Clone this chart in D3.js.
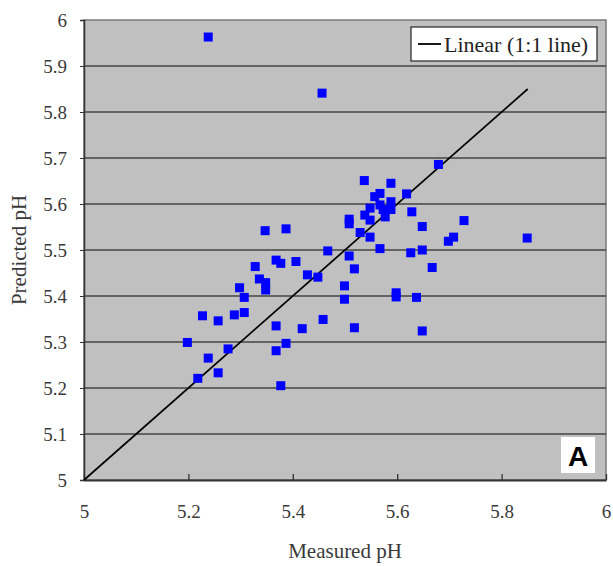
<!DOCTYPE html>
<html>
<head>
<meta charset="utf-8">
<script src="https://cdn.jsdelivr.net/npm/d3@7"></script>
<style>
  body { margin: 0; background: #ffffff; }
  text { font-family: "Liberation Serif", "DejaVu Serif", serif; }
</style>
</head>
<body>
<div id="chart"></div>
<script>
const plot_bg = "#c0c0c0"
const grid_color = "#454545"
const point_color = "#0000ff"
const text_color = "#3a3a3a"
const serif = "'Liberation Serif', 'DejaVu Serif', serif"

// measured pH vs predicted pH
const measured = [
  5.238, 5.456, 5.679, 5.537, 5.588, 5.567, 5.557, 5.618, 5.588, 5.567,
  5.548, 5.573, 5.588, 5.538, 5.577, 5.548, 5.628, 5.508, 5.508, 5.529,
  5.548, 5.648, 5.728, 5.698, 5.708, 5.467, 5.508, 5.567, 5.626, 5.648,
  5.518, 5.667, 5.499, 5.499, 5.598, 5.598, 5.637, 5.458, 5.518, 5.648,
  5.328, 5.368, 5.377, 5.406, 5.428, 5.448, 5.336, 5.348, 5.348, 5.298,
  5.307, 5.227, 5.257, 5.288, 5.307, 5.368, 5.418, 5.198, 5.276, 5.387,
  5.368, 5.238, 5.257, 5.218, 5.377, 5.347, 5.387, 5.849
];
const predicted = [
  5.963, 5.841, 5.686, 5.651, 5.645, 5.623, 5.616, 5.622, 5.605, 5.598,
  5.591, 5.588, 5.588, 5.576, 5.572, 5.565, 5.583, 5.567, 5.557, 5.538,
  5.528, 5.551, 5.564, 5.519, 5.528, 5.498, 5.487, 5.503, 5.494, 5.500,
  5.459, 5.462, 5.422, 5.393, 5.407, 5.398, 5.397, 5.349, 5.331, 5.324,
  5.464, 5.478, 5.471, 5.475, 5.446, 5.441, 5.437, 5.429, 5.413, 5.418,
  5.397, 5.357, 5.346, 5.359, 5.364, 5.335, 5.329, 5.299, 5.285, 5.297,
  5.281, 5.265, 5.233, 5.221, 5.205, 5.542, 5.546, 5.526
];
const line_ends = [5, 5.85];
const x_ticks = [5, 5.2, 5.4, 5.6, 5.8, 6];
const y_ticks = [5, 5.1, 5.2, 5.3, 5.4, 5.5, 5.6, 5.7, 5.8, 5.9, 6];

const W = 613, H = 566;
const margin = {top: 20, right: 7, bottom: 86, left: 84};
const w = W - margin.left - margin.right,
    h = H - margin.top - margin.bottom;

const svg = d3.select("#chart").append("svg")
    .attr("width", W)
    .attr("height", H);

const g = svg.append("g")
    .attr("transform", `translate(${margin.left},${margin.top})`);

const x = d3.scaleLinear().domain([5, 6]).range([0, w]);
const y = d3.scaleLinear().domain([5, 6]).range([h, 0]);
const fmt = d => String(+d.toFixed(1));

g.append("rect")
    .attr("width", w)
    .attr("height", h)
    .attr("fill", plot_bg)
    .attr("stroke", "#7a7a7a")
    .attr("stroke-width", 1.5);

// horizontal gridlines
g.selectAll(".grid")
  .data(y_ticks.slice(1, -1))
  .join("line")
    .attr("x1", 0)
    .attr("x2", w)
    .attr("y1", d => y(d))
    .attr("y2", d => y(d))
    .attr("stroke", grid_color)
    .attr("stroke-width", 1.7);

// y axis
const yAxis = g.append("g")
    .call(d3.axisLeft(y).tickValues(y_ticks).tickFormat(fmt).tickSize(4).tickPadding(13))
    .attr("font-family", serif)
    .attr("font-size", 19);
yAxis.select(".domain").attr("stroke", "#333").attr("stroke-width", 1.5);
yAxis.selectAll(".tick line").attr("stroke", "#333");
yAxis.selectAll("text").attr("fill", text_color);

// x axis, ticks pointing inward
const xAxis = g.append("g")
    .attr("transform", `translate(0,${h})`)
    .call(d3.axisBottom(x).tickValues(x_ticks).tickFormat(fmt).tickSizeInner(-6).tickSizeOuter(0).tickPadding(25))
    .attr("font-family", serif)
    .attr("font-size", 19);
xAxis.select(".domain").attr("stroke", "#333").attr("stroke-width", 1.8);
xAxis.selectAll(".tick line").attr("stroke", "#333").attr("stroke-width", 1.3);
xAxis.selectAll("text").attr("fill", text_color);

// 1:1 line
g.append("line")
    .attr("x1", x(line_ends[0]))
    .attr("y1", y(line_ends[0]))
    .attr("x2", x(line_ends[1]))
    .attr("y2", y(line_ends[1]))
    .attr("stroke", "#000")
    .attr("stroke-width", 1.7);

// points
const sq = 9;
g.selectAll(".pt")
  .data(measured.map((m, i) => [m, predicted[i]]))
  .join("rect")
    .attr("x", d => x(d[0]) - sq / 2)
    .attr("y", d => y(d[1]) - sq / 2)
    .attr("width", sq)
    .attr("height", sq)
    .attr("fill", point_color);

// legend
const lg = g.append("g").attr("transform", `translate(${w - 195},7)`);
lg.append("rect")
    .attr("width", 186)
    .attr("height", 34)
    .attr("fill", "#fff")
    .attr("stroke", "#333")
    .attr("stroke-width", 1.3);
lg.append("line")
    .attr("x1", 7).attr("x2", 30)
    .attr("y1", 17).attr("y2", 17)
    .attr("stroke", "#000")
    .attr("stroke-width", 1.8);
lg.append("text")
    .attr("x", 33)
    .attr("y", 25)
    .attr("font-size", 22)
    .attr("fill", "#222")
    .text("Linear (1:1 line)");

// panel letter
const pa = g.append("g").attr("transform", `translate(${w - 45},${h - 43})`);
pa.append("rect")
    .attr("width", 34)
    .attr("height", 36)
    .attr("fill", "#fff");
pa.append("text")
    .attr("x", 17)
    .attr("y", 29)
    .attr("text-anchor", "middle")
    .attr("font-size", 28)
    .attr("font-weight", "bold")
    .style("font-family", "'Liberation Sans', Arial, sans-serif")
    .text("A");

// axis titles
svg.append("text")
    .attr("x", margin.left + w / 2)
    .attr("y", 558)
    .attr("text-anchor", "middle")
    .attr("font-size", 21)
    .attr("fill", text_color)
    .text("Measured pH");

svg.append("text")
    .attr("transform", `translate(26,${margin.top + h / 2}) rotate(-90)`)
    .attr("text-anchor", "middle")
    .attr("font-size", 21)
    .attr("fill", text_color)
    .text("Predicted pH");
</script>
</body>
</html>
